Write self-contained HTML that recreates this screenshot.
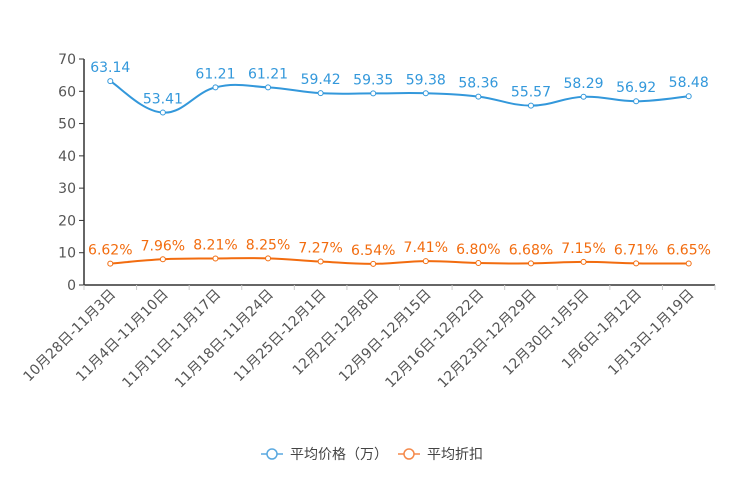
<!DOCTYPE html>
<html><head><meta charset="utf-8"><style>
html,body{margin:0;padding:0;background:#fff;}
svg{display:block;font-family:"DejaVu Sans","Noto Sans CJK SC",sans-serif;}
</style></head><body>
<svg id="chart" width="744" height="496"></svg>
<script>
const categories=["10月28日-11月3日","11月4日-11月10日","11月11日-11月17日","11月18日-11月24日","11月25日-12月1日","12月2日-12月8日","12月9日-12月15日","12月16日-12月22日","12月23日-12月29日","12月30日-1月5日","1月6日-1月12日","1月13日-1月19日"];
const priceValues=[63.14,53.41,61.21,61.21,59.42,59.35,59.38,58.36,55.57,58.29,56.92,58.48];
const discountValues=[6.62,7.96,8.21,8.25,7.27,6.54,7.41,6.80,6.68,7.15,6.71,6.65];
const yTicks=[0,10,20,30,40,50,60,70];
const NS="http://www.w3.org/2000/svg";
const svg=document.getElementById('chart');
const L=84,R=715,T=59,B=285,yMax=70;
const bw=(R-L)/categories.length;
const xPos=i=>L+bw*(i+0.5);
const yPos=v=>B-(v/yMax)*(B-T);
function mk(tag,attrs,parent){const e=document.createElementNS(NS,tag);for(const k in attrs)e.setAttribute(k,attrs[k]);(parent||svg).appendChild(e);return e;}
const axes=mk('g',{});


mk('line',{x1:L,y1:T,x2:L,y2:B,stroke:'#333','stroke-width':1.5},axes);
mk('line',{x1:L,y1:B,x2:R,y2:B,stroke:'#333','stroke-width':1.5},axes);
yTicks.forEach(t=>{
  mk('line',{x1:L-5,y1:yPos(t),x2:L,y2:yPos(t),stroke:'#333'},axes);
  const tx=mk('text',{x:L-8,y:yPos(t)+5,'text-anchor':'end','font-size':14,fill:'#555'},axes);
  tx.textContent=t;
  
  
});
for(let i=0;i<=categories.length;i++){
  mk('line',{x1:L+bw*i,y1:B,x2:L+bw*i,y2:B+5,stroke:'#ccc'},axes);
}
categories.forEach((c,i)=>{
  const x=xPos(i)+6,y=B+10;
  const tx=mk('text',{x:x,y:y,'text-anchor':'end','font-size':14,fill:'#555',transform:`rotate(-45 ${x} ${y})`},axes);
  tx.textContent=c;
  
  
});
function smooth(pts){
  let d=`M${pts[0][0]},${pts[0][1]}`;
  for(let i=0;i<pts.length-1;i++){
    const p0=pts[i-1]||pts[i],p1=pts[i],p2=pts[i+1],p3=pts[i+2]||p2;
    const t=0.2;
    const c1=[p1[0]+(p2[0]-p0[0])*t,p1[1]+(p2[1]-p0[1])*t];
    const c2=[p2[0]-(p3[0]-p1[0])*t,p2[1]-(p3[1]-p1[1])*t];
    d+=` C${c1[0]},${c1[1]} ${c2[0]},${c2[1]} ${p2[0]},${p2[1]}`;
  }
  return d;
}
function series(vals,color,name,fmt){
  const g=mk('g',{});
  
  
  const pts=vals.map((v,i)=>[xPos(i),yPos(v)]);
  mk('path',{d:smooth(pts),fill:'none',stroke:color,'stroke-width':2},g);
  pts.forEach((p,i)=>{
    const c=mk('circle',{cx:p[0],cy:p[1],r:2.5,fill:'#fff',stroke:color,'stroke-width':1},g);
    
    
    const tx=mk('text',{x:p[0],y:p[1]-9,'text-anchor':'middle','font-size':14,fill:color},g);
    tx.textContent=fmt(vals[i]);
    
    
  });
}
series(priceValues,'#3398db','price-series',v=>v.toFixed(2));
series(discountValues,'#f26c0f','discount-series',v=>v.toFixed(2)+'%');
</script>
<svg width="744" height="40" style="position:absolute;left:0;top:436px">
  <g>
    <line x1="261" y1="18" x2="283" y2="18" stroke="#5aa9e0" stroke-width="1.5"/>
    <circle cx="272" cy="18" r="5" fill="#fff" stroke="#5aa9e0" stroke-width="1.5"/>
    <text x="290" y="23" font-size="14" fill="#444">平均价格（万）</text>
  </g>
  <g>
    <line x1="398" y1="18" x2="420" y2="18" stroke="#f5894a" stroke-width="1.5"/>
    <circle cx="409" cy="18" r="5" fill="#fff" stroke="#f5894a" stroke-width="1.5"/>
    <text x="427" y="23" font-size="14" fill="#444">平均折扣</text>
  </g>
</svg>
</body></html>
